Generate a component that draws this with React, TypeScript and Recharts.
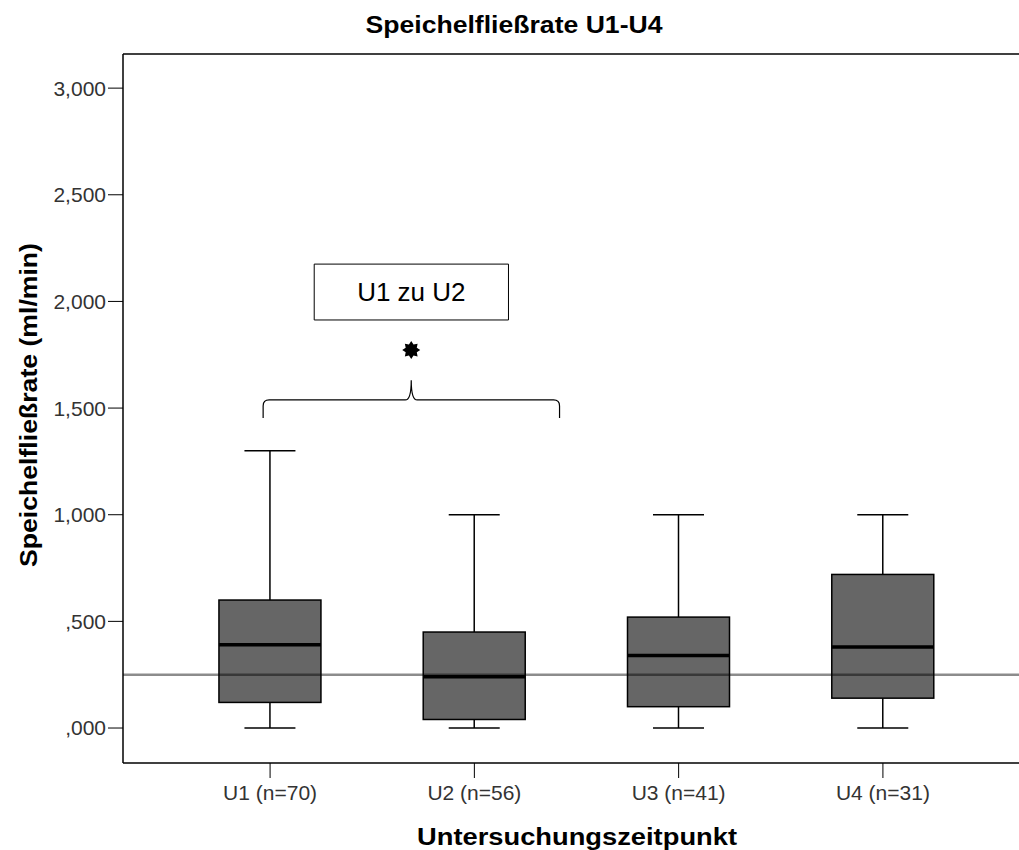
import { ComposedChart, Bar, XAxis, YAxis, ReferenceLine, ReferenceArea, ReferenceDot, Label } from 'recharts';

// Boxplot-Kennwerte je Untersuchungszeitpunkt (ml/min)
const categories = ['U1 (n=70)', 'U2 (n=56)', 'U3 (n=41)', 'U4 (n=31)'];
const positions = [1, 2, 3, 4];
const whiskerLow = [0, 0, 0, 0];
const q1Values = [0.12, 0.04, 0.1, 0.14];
const medianValues = [0.39, 0.24, 0.34, 0.38];
const q3Values = [0.6, 0.45, 0.52, 0.72];
const whiskerHigh = [1.3, 1.0, 1.0, 1.0];

const yTicks = [0, 0.5, 1, 1.5, 2, 2.5, 3];
const yTickLabels = [',000', ',500', '1,000', '1,500', '2,000', '2,500', '3,000'];
const referenceValue = 0.25;

// Signifikanz U1 zu U2
const bracketX = [0.966, 2.417];
const bracketTip = 1.691;
const bracketY = [1.453, 1.538, 1.631];
const starPoint = [1.691, 1.772];
const noteBoxX = [1.216, 2.167];
const noteBoxY = [1.913, 2.175];
const noteText = 'U1 zu U2';

const yDomain = [-0.164, 3.16];
const xDomain = [0.28, 4.72];

const font = 'Liberation Sans, Arial, sans-serif';

const data = categories.map((name, i) => ({
    name,
    pos: positions[i],
    range: [whiskerLow[i], whiskerHigh[i]],
    q1: q1Values[i],
    median: medianValues[i],
    q3: q3Values[i],
}));

const BoxShape = (props: any) => {
    const { x, y, width, height, payload } = props;
    const [lo, hi] = payload.range;
    const top = Math.min(y, y + height);
    const bottom = Math.max(y, y + height);
    const toY = (v: number) => bottom - ((bottom - top) * (v - lo)) / (hi - lo);
    const cx = x + width / 2;
    const capHalf = width / 4;
    return (
        <g>
            <line x1={cx} x2={cx} y1={toY(hi)} y2={toY(payload.q3)} stroke="#000" strokeWidth={1.5} />
            <line x1={cx} x2={cx} y1={toY(payload.q1)} y2={toY(lo)} stroke="#000" strokeWidth={1.5} />
            <line x1={cx - capHalf} x2={cx + capHalf} y1={toY(hi)} y2={toY(hi)} stroke="#000" strokeWidth={1.5} />
            <line x1={cx - capHalf} x2={cx + capHalf} y1={toY(lo)} y2={toY(lo)} stroke="#000" strokeWidth={1.5} />
            <rect
                x={x}
                y={toY(payload.q3)}
                width={width}
                height={toY(payload.q1) - toY(payload.q3)}
                fill="#666666"
                stroke="#000"
                strokeWidth={1.5}
            />
            <line x1={x} x2={x + width} y1={toY(payload.median)} y2={toY(payload.median)} stroke="#000" strokeWidth={3.5} />
        </g>
    );
};

const BracketShape = (props: any) => {
    const { x, y, width, height } = props;
    const bottom = y + height;
    const right = x + width;
    const level = y + (height * (bracketY[2] - bracketY[1])) / (bracketY[2] - bracketY[0]);
    const cx = x + (width * (bracketTip - bracketX[0])) / (bracketX[1] - bracketX[0]);
    const r = 6;
    const d = `M ${x} ${bottom} L ${x} ${level + r} Q ${x} ${level} ${x + r} ${level} L ${cx - r} ${level} Q ${cx} ${level} ${cx} ${y} Q ${cx} ${level} ${cx + r} ${level} L ${right - r} ${level} Q ${right} ${level} ${right} ${level + r} L ${right} ${bottom}`;
    return <path d={d} fill="none" stroke="#000" strokeWidth={1.2} />;
};

const StarShape = (props: any) => {
    const { cx, cy } = props;
    const pts: string[] = [];
    for (let k = 0; k < 16; k++) {
        const r = k % 2 === 0 ? 9 : 6;
        const a = (Math.PI * k) / 8 - Math.PI / 2;
        pts.push(`${cx + r * Math.cos(a)},${cy + r * Math.sin(a)}`);
    }
    return <polygon points={pts.join(' ')} fill="#000" />;
};

export default function App() {
    return (
        <div style={{ position: 'absolute', left: 0, top: 0, width: 1019, height: 850, overflow: 'hidden', background: '#fff' }}>
            <ComposedChart width={1030} height={850} data={data} margin={{ top: 54, right: 0, bottom: 0, left: 0 }}>
                <XAxis
                    type="number"
                    dataKey="pos"
                    domain={xDomain}
                    ticks={positions}
                    allowDataOverflow
                    tickFormatter={(v: number) => categories[positions.indexOf(v)]}
                    height={87}
                    tickSize={15}
                    axisLine={{ stroke: '#000', strokeWidth: 1.5 }}
                    tickLine={{ stroke: '#000', strokeWidth: 1 }}
                    tick={{ fontSize: 21, fill: '#333', fontFamily: font, dy: 5 }}
                />
                <YAxis
                    type="number"
                    domain={yDomain}
                    ticks={yTicks}
                    allowDataOverflow
                    tickFormatter={(v: number) => yTickLabels[yTicks.indexOf(v)]}
                    width={123}
                    tickSize={15}
                    axisLine={{ stroke: '#000', strokeWidth: 1.5 }}
                    tickLine={{ stroke: '#000', strokeWidth: 1 }}
                    tick={{ fontSize: 21, fill: '#333', fontFamily: font }}
                />
                <ReferenceLine y={yDomain[1]} stroke="#000" strokeWidth={1.5} ifOverflow="visible" />
                <Bar dataKey="range" barSize={102} shape={<BoxShape />} isAnimationActive={false} />
                <ReferenceLine y={referenceValue} stroke="#000" strokeOpacity={0.45} strokeWidth={2.5} />
                <ReferenceArea
                    x1={bracketX[0]}
                    x2={bracketX[1]}
                    y1={bracketY[0]}
                    y2={bracketY[2]}
                    shape={<BracketShape />}
                />
                <ReferenceDot x={starPoint[0]} y={starPoint[1]} shape={<StarShape />} />
                <ReferenceArea
                    x1={noteBoxX[0]}
                    x2={noteBoxX[1]}
                    y1={noteBoxY[0]}
                    y2={noteBoxY[1]}
                    fill="#fff"
                    fillOpacity={1}
                    stroke="#000"
                    strokeWidth={1}
                >
                    <Label value={noteText} position="center" style={{ fontSize: 26, fill: '#000', fontFamily: font }} />
                </ReferenceArea>
            </ComposedChart>
            <svg width={1019} height={850} style={{ position: 'absolute', left: 0, top: 0, pointerEvents: 'none' }}>
                <g fontFamily={font} fontWeight="bold" fill="#000">
                    <text x={514} y={33} textAnchor="middle" fontSize={23} textLength={297} lengthAdjust="spacingAndGlyphs">
                        Speichelfließrate U1-U4
                    </text>
                    <text x={577} y={845} textAnchor="middle" fontSize={23} textLength={320} lengthAdjust="spacingAndGlyphs">
                        Untersuchungszeitpunkt
                    </text>
                    <text
                        x={37}
                        y={405}
                        textAnchor="middle"
                        fontSize={23}
                        textLength={324}
                        lengthAdjust="spacingAndGlyphs"
                        transform="rotate(-90 37 405)"
                    >
                        Speichelfließrate (ml/min)
                    </text>
                </g>
            </svg>
        </div>
    );
}
